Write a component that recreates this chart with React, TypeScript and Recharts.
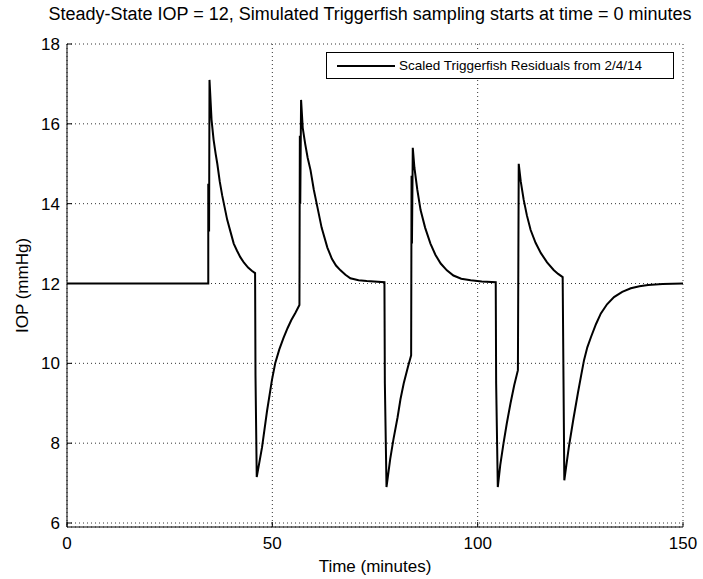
import { LineChart, Line, XAxis, YAxis, CartesianGrid } from 'recharts'

// time in minutes, IOP in mmHg
const times = [
    0, 34.4, 34.4, 34.6, 34.7,
    35.2, 35.7, 36.2, 36.6, 37.2, 37.8, 38.4, 39.0, 39.8, 40.6, 41.4, 42.2, 43.1, 44.1, 45.0, 45.8,
    45.9, 46.2, 47.5, 48.7, 49.9, 50.7, 51.7, 52.7, 53.7, 54.6, 55.6, 56.6,
    56.7, 56.8, 57,
    57.4, 58, 58.6, 59.3, 60.1, 61, 62, 63.4, 64.5, 65.5, 66.6, 67.8, 69, 71, 73, 77.3,
    77.4, 77.8, 78.7, 79.5, 80.5, 81.2, 82, 83, 83.8,
    83.9, 84, 84.2,
    84.6, 85.3, 86.1, 87.2, 88.5, 89.7, 91, 92.5, 94.1, 96, 98.3, 101, 104.4,
    104.5, 104.9, 105.5, 106.3, 107.1, 108, 108.9, 109.8,
    109.9, 110,
    110.5, 111.2, 112, 112.9, 114.1, 115.4, 116.9, 118.5, 119.6, 120.7,
    120.9, 121.1, 121.6, 122.2, 123.3, 124.4, 125.2, 125.9, 126.7, 127.6, 128.8, 130,
    131.5, 133.2, 135.2, 137.3, 139.4, 141.5, 145, 150
]
const iop = [
    12, 12, 14.5, 13.3, 17.1,
    16.1, 15.6, 15.25, 15.0, 14.55, 14.2, 13.9, 13.6, 13.3, 13.0, 12.82, 12.66, 12.52, 12.4, 12.32, 12.26,
    9.7, 7.15, 7.9, 8.8, 9.58, 10.0, 10.35, 10.63, 10.88, 11.08, 11.26, 11.46,
    15.7, 14.0, 16.6,
    15.9, 15.5, 15.15, 14.84, 14.35, 13.9, 13.4, 12.9, 12.62, 12.45, 12.33, 12.22, 12.13, 12.08, 12.06, 12.03,
    9.5, 6.9, 7.6, 8.1, 8.65, 9.1, 9.5, 9.9, 10.2,
    14.7, 13.0, 15.4,
    14.9, 14.35, 13.84, 13.4, 13.0, 12.72, 12.5, 12.33, 12.2, 12.12, 12.08, 12.05, 12.03,
    9.5, 6.9, 7.45, 8.0, 8.5, 9.0, 9.45, 9.83,
    12.4, 15.0,
    14.55, 14.1, 13.7, 13.34, 13.02, 12.76, 12.53, 12.34, 12.24, 12.16,
    9.6, 7.07, 7.45, 7.9, 8.6, 9.25, 9.7, 10.08, 10.4, 10.66, 10.98, 11.25,
    11.48, 11.66, 11.79, 11.88, 11.93, 11.96, 11.99, 12.0
]
const xTicks = [0, 50, 100, 150]
const yTicks = [6, 8, 10, 12, 14, 16, 18]

const chartData = times.map((t, i) => ({ time: t, iop: iop[i] }))

const font = '"Liberation Sans", Arial, sans-serif'

const YLabel = ({ viewBox }: any) => {
    const cy = viewBox ? viewBox.y + viewBox.height / 2 : 285
    return (
        <text x={22} y={cy} transform={`rotate(-90 22 ${cy})`} textAnchor="middle" dominantBaseline="central"
            fontSize={17} fill="#000" fontFamily={font}>
            IOP (mmHg)
        </text>
    )
}

export default function App() {
    return (
        <div style={{ position: 'absolute', left: 0, top: 0, width: 703, height: 579, background: '#fff', fontFamily: font, overflow: 'hidden' }}>
            <div style={{
                position: 'absolute', top: 3, left: 40, width: 660, textAlign: 'center',
                fontSize: 18, lineHeight: '22px', color: '#000', whiteSpace: 'nowrap'
            }}>
                Steady-State IOP = 12, Simulated Triggerfish sampling starts at time = 0 minutes
            </div>
            <LineChart width={703} height={579} data={chartData} margin={{ top: 44, right: 20, bottom: 22, left: 0 }}>
                <CartesianGrid strokeDasharray="1 3" stroke="#333" />
                <XAxis
                    dataKey="time"
                    type="number"
                    domain={[0, 150]}
                    ticks={xTicks}
                    height={30}
                    stroke="#000"
                    tickSize={-5}
                    tickMargin={15}
                    tick={{ fill: '#000', fontSize: 17, fontFamily: font }}
                    label={{ value: 'Time (minutes)', position: 'bottom', offset: 3, fill: '#000', fontSize: 17, fontFamily: font }}
                />
                <YAxis
                    type="number"
                    domain={[5.9, 18]}
                    ticks={yTicks}
                    width={67}
                    allowDataOverflow
                    stroke="#000"
                    tickSize={-5}
                    tickMargin={12}
                    tick={{ fill: '#000', fontSize: 17, fontFamily: font }}
                    label={<YLabel />}
                />
                <Line
                    type="linear"
                    dataKey="iop"
                    stroke="#000"
                    strokeWidth={2}
                    dot={false}
                    isAnimationActive={false}
                    name="Scaled Triggerfish Residuals from 2/4/14"
                />
            </LineChart>
            <div style={{
                position: 'absolute', top: 52, left: 326, width: 346, height: 25,
                border: '1px solid #000', background: '#fff',
                display: 'flex', alignItems: 'center', fontSize: 13.5, color: '#000'
            }}>
                <div style={{ width: 58, height: 2, background: '#000', marginLeft: 10, marginRight: 4 }}></div>
                <span>Scaled Triggerfish Residuals from 2/4/14</span>
            </div>
        </div>
    )
}
